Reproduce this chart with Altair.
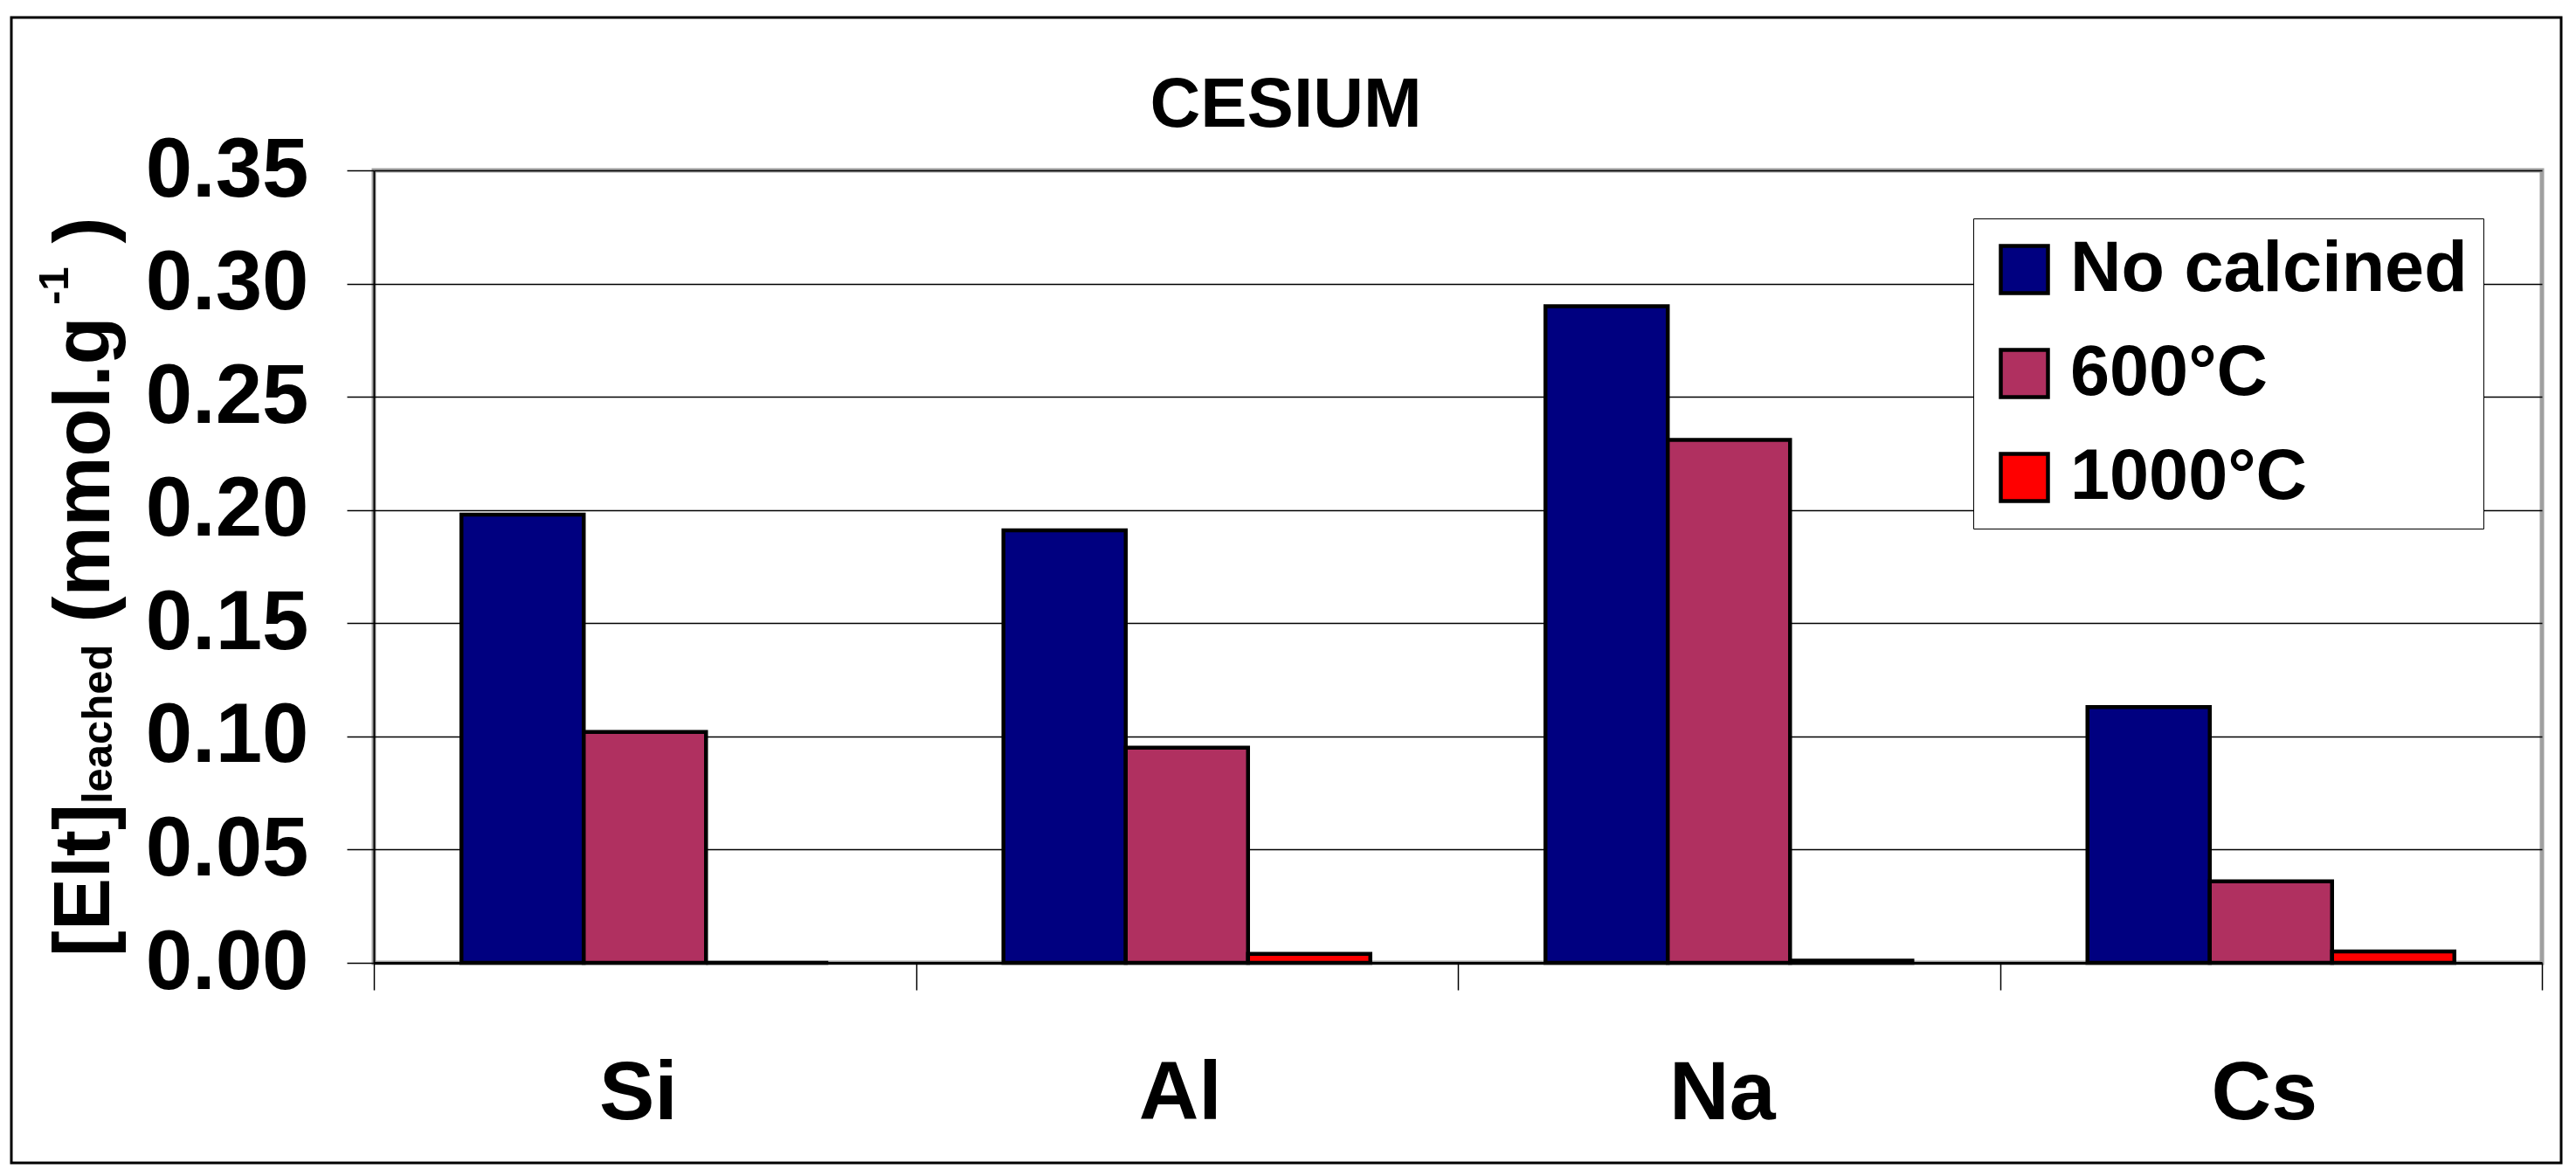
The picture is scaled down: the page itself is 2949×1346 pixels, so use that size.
import altair as alt
import pandas as pd

# ---- data ----
categories = ["Si", "Al", "Na", "Cs"]
series = ["No calcined", "600°C", "1000°C"]
no_calcined = [0.198, 0.191, 0.290, 0.113]
calc_600 = [0.102, 0.095, 0.231, 0.036]
calc_1000 = [0.000, 0.004, 0.001, 0.005]
colors = ["#000080", "#B03060", "#FF0000"]
y_ticks = [0.00, 0.05, 0.10, 0.15, 0.20, 0.25, 0.30, 0.35]
title_text = "CESIUM"
y_title_parts = ["[Elt]", "leached", "(mmol.g", "-1", ")"]

rows = []
for s, vals in zip(series, [no_calcined, calc_600, calc_1000]):
    for c, v in zip(categories, vals):
        rows.append({"element": c, "series": s, "value": v})
df = pd.DataFrame(rows)

FONT = "Liberation Sans"
W, H = 2482, 907

bars = alt.Chart(df).mark_bar(stroke="black", strokeWidth=4.5).encode(
    x=alt.X(
        "element:N",
        sort=categories,
        scale=alt.Scale(paddingInner=0, paddingOuter=0),
        axis=alt.Axis(
            title=None,
            labelAngle=0,
            labelFont=FONT,
            labelFontWeight="bold",
            labelFontSize=95,
            labelColor="black",
            labelPadding=72,
            labelOffset=-8,
            labelLimit=1000,
            tickBand="extent",
            tickSize=31,
            tickColor="black",
            tickWidth=1.5,
            domainColor="black",
            domainWidth=3,
            grid=False,
        ),
    ),
    xOffset=alt.XOffset(
        "series:N", sort=series, scale=alt.Scale(paddingInner=0, paddingOuter=0.716)
    ),
    y=alt.Y(
        "value:Q",
        scale=alt.Scale(domain=[0, 0.35], nice=False, zero=True),
        axis=alt.Axis(
            title=None,
            values=y_ticks,
            format=".2f",
            labelFont=FONT,
            labelFontWeight="bold",
            labelFontSize=96,
            labelColor="black",
            labelPadding=44,
            labelLimit=1000,
            tickSize=31,
            tickColor="black",
            tickWidth=1.5,
            domainColor="black",
            domainWidth=2,
            grid=True,
            gridColor="black",
            gridWidth=1.3,
        ),
    ),
    color=alt.Color(
        "series:N",
        sort=series,
        scale=alt.Scale(domain=series, range=colors),
        legend=alt.Legend(
            title=None,
            orient="none",
            legendX=1831,
            legendY=55,
            fillColor="white",
            strokeColor="black",
            padding=18,
            symbolType="square",
            symbolSize=2916,
            symbolStrokeColor="black",
            symbolStrokeWidth=4.5,
            symbolOpacity=1,
            labelFont=FONT,
            labelFontWeight="bold",
            labelFontSize=81,
            labelColor="black",
            labelOffset=12,
            rowPadding=37,
            labelLimit=1000,
        ),
    ),
)

one = pd.DataFrame({"k": [0]})

frame = alt.Chart(one).mark_rect(
    fillOpacity=0, stroke="black", strokeWidth=3
).encode(
    x=alt.value(-415), x2=alt.value(2504), y=alt.value(-175), y2=alt.value(1136)
)

title = alt.Chart(one).mark_text(
    text=title_text, font=FONT, fontWeight="bold", fontSize=80,
    align="center", baseline="alphabetic", color="black",
).encode(x=alt.value(1044), y=alt.value(-50))

# y-axis title built from pieces (subscript / superscript)
F, f = 90, 49
w_elt = 1.944 * F
w_leached = 3.724 * f
w_gap = 0.278 * F
w_mmol = 3.889 * F
w_gap2 = 0.15 * F
w_sup = 0.889 * f
w_gap3 = 0.3 * F
y0 = 900
pieces = [
    (y_title_parts[0], F, -303, y0),
    (y_title_parts[1], f, -300, y0 - w_elt),
    (y_title_parts[2], F, -303, y0 - w_elt - w_leached - w_gap),
    (y_title_parts[3], f, -350, y0 - w_elt - w_leached - w_gap - w_mmol - w_gap2),
    (y_title_parts[4], F, -303,
     y0 - w_elt - w_leached - w_gap - w_mmol - w_gap2 - w_sup - w_gap3),
]
ytitle_layers = []
for txt, fs, px, py in pieces:
    ytitle_layers.append(
        alt.Chart(one).mark_text(
            text=txt, font=FONT, fontWeight="bold", fontSize=fs, angle=270,
            align="left", baseline="alphabetic", color="black",
        ).encode(x=alt.value(px), y=alt.value(py))
    )

chart = alt.layer(bars, frame, title, *ytitle_layers).properties(
    width=W,
    height=H,
    autosize=alt.AutoSizeParams(type="none"),
    padding={"left": 420, "top": 187, "right": 31, "bottom": 236},
    background="white",
).configure_view(
    stroke="#a0a0a0", strokeWidth=5
)

chart.save("out.html", embed_options={"renderer": "svg", "actions": False})
